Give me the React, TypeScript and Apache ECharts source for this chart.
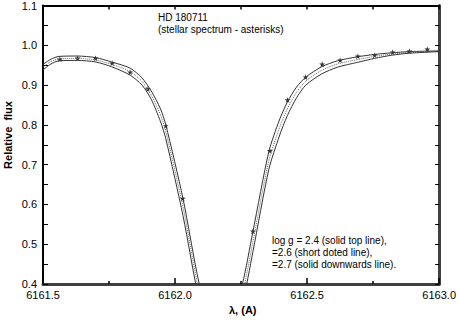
import React, { useEffect, useRef } from "react";
import * as echarts from "echarts";

// Wavelength grid (Angstrom) for the model profiles
const wavelengths = [
  6161.5, 6161.53, 6161.56, 6161.63, 6161.7, 6161.76, 6161.83, 6161.875, 6161.91,
  6161.945, 6161.965, 6162.03, 6162.09, 6162.17, 6162.255, 6162.295, 6162.355,
  6162.395, 6162.425, 6162.46, 6162.495, 6162.555, 6162.615, 6162.69, 6162.755,
  6162.82, 6162.885, 6163.0,
];
// log g = 2.4 (solid top line)
const fluxLogg24 = [
  0.952, 0.965, 0.972, 0.973, 0.969, 0.958, 0.9425, 0.918, 0.885,
  0.84, 0.8, 0.615, 0.405, 0.2, 0.4, 0.5325, 0.7325,
  0.812, 0.857, 0.895, 0.92, 0.946, 0.961, 0.971, 0.977,
  0.981, 0.984, 0.986,
];
// log g = 2.6 (short dotted line)
const fluxLogg26 = [
  0.945, 0.959, 0.966, 0.967, 0.963, 0.952, 0.934, 0.909, 0.874,
  0.825, 0.783, 0.594, 0.384, 0.18, 0.375, 0.507, 0.71,
  0.792, 0.84, 0.882, 0.91, 0.937, 0.953, 0.964, 0.972,
  0.978, 0.982, 0.985,
];
// log g = 2.7 (solid downwards line)
const fluxLogg27 = [
  0.938, 0.953, 0.961, 0.962, 0.958, 0.946, 0.925, 0.9, 0.864,
  0.808, 0.765, 0.572, 0.362, 0.16, 0.35, 0.482, 0.688,
  0.772, 0.823, 0.868, 0.9, 0.928, 0.945, 0.957, 0.967,
  0.975, 0.98, 0.984,
];
// Observed stellar spectrum (asterisks)
const starWavelengths = [
  6161.564, 6161.631, 6161.699, 6161.762, 6161.83, 6161.897, 6161.965, 6162.029,
  6162.295, 6162.359, 6162.426, 6162.494, 6162.557, 6162.625, 6162.692, 6162.756,
  6162.824, 6162.887, 6162.955,
];
const starFlux = [
  0.965, 0.9675, 0.9675, 0.955, 0.9325, 0.89, 0.7975, 0.615,
  0.5325, 0.735, 0.8625, 0.92, 0.9525, 0.9625, 0.9725, 0.975,
  0.9825, 0.985, 0.99,
];

const titleLines = ["HD 180711", "(stellar spectrum - asterisks)"];
const legendLines = [
  "log g = 2.4 (solid top line),",
  "=2.6 (short doted line),",
  "=2.7 (solid downwards line).",
];
const xAxisTitle = "λ, (A)";
const yAxisTitle = "Relative  flux";

const FONT = "Liberation Sans, Arial, sans-serif";
const STAR =
  "path://M50,0 L61,35 L98,35 L68,57 L79,91 L50,70 L21,91 L32,57 L2,35 L39,35 Z";

export default function App() {
  const ref = useRef<HTMLDivElement>(null);
  useEffect(() => {
    if (!ref.current) return;
    const chart = echarts.init(ref.current, undefined, { renderer: "svg" });
    const pair = (xs: number[], ys: number[]) => xs.map((x, i) => [x, ys[i]]);
    const lineSeries = (name: string, ys: number[], color: string, type: any) => ({
      name,
      type: "line",
      data: pair(wavelengths, ys),
      showSymbol: false,
      symbol: "none",
      smooth: 0.25,
      clip: true,
      lineStyle: { color, width: 1, type },
      silent: true,
    });
    chart.setOption({
      animation: false,
      backgroundColor: "#ffffff",
      grid: { left: 43, right: 16, top: 5, bottom: 36, containLabel: false },
      xAxis: [
        {
          type: "value",
          min: 6161.5,
          max: 6163.0,
          interval: 0.5,
          axisLine: { show: true, lineStyle: { color: "#404040", width: 3 } },
          axisTick: { show: true, inside: true, length: 6, lineStyle: { color: "#000", width: 1.5 } },
          minorTick: { show: true, splitNumber: 2, length: 3, lineStyle: { color: "#000", width: 1.5 } },
          splitLine: { show: false },
          axisLabel: {
            color: "#000",
            fontFamily: FONT,
            fontSize: 11,
            margin: 5,
            formatter: (v: number) => v.toFixed(1),
          },
        },
        {
          type: "value",
          position: "top",
          min: 6161.5,
          max: 6163.0,
          interval: 0.25,
          axisLine: { show: true, lineStyle: { color: "#000", width: 2 } },
          axisTick: { show: true, inside: true, length: 4, lineStyle: { color: "#000", width: 1.5 } },
          splitLine: { show: false },
          axisLabel: { show: false },
        },
      ],
      yAxis: [
        {
          type: "value",
          min: 0.4,
          max: 1.1,
          interval: 0.1,
          axisLine: { show: true, lineStyle: { color: "#000", width: 2 } },
          axisTick: { show: true, inside: true, length: 5, lineStyle: { color: "#000", width: 1 } },
          minorTick: { show: true, splitNumber: 2, length: 5, lineStyle: { color: "#000", width: 1 } },
          splitLine: { show: false },
          axisLabel: {
            color: "#000",
            fontFamily: FONT,
            fontSize: 11,
            margin: 6,
            formatter: (v: number) => v.toFixed(1),
          },
        },
        {
          type: "value",
          position: "right",
          min: 0.4,
          max: 1.1,
          interval: 0.05,
          axisLine: { show: true, lineStyle: { color: "#404040", width: 3 } },
          axisTick: { show: true, inside: true, length: 4, lineStyle: { color: "#000", width: 1 } },
          splitLine: { show: false },
          axisLabel: { show: false },
        },
      ],
      series: [
        lineSeries("log g = 2.4", fluxLogg24, "#333333", "solid"),
        lineSeries("log g = 2.6", fluxLogg26, "#666666", [1, 1]),
        lineSeries("log g = 2.7", fluxLogg27, "#333333", "solid"),
        {
          name: "HD 180711",
          type: "scatter",
          data: pair(starWavelengths, starFlux),
          symbol: STAR,
          symbolSize: 6,
          itemStyle: { color: "#000" },
          silent: true,
        },
      ],
      graphic: [
        ...titleLines.map((t, i) => ({
          type: "text",
          left: 158,
          top: 12 + i * 12,
          style: { text: t, fill: "#000", font: `10px ${FONT}` },
        })),
        ...legendLines.map((t, i) => ({
          type: "text",
          left: 272,
          top: 235 + i * 12,
          style: { text: t, fill: "#000", font: `10px ${FONT}` },
        })),
        {
          type: "text",
          left: 229,
          top: 304,
          style: { text: xAxisTitle, fill: "#000", font: `bold 11px ${FONT}` },
        },
        {
          type: "text",
          x: 8,
          y: 135,
          rotation: Math.PI / 2,
          style: {
            text: yAxisTitle,
            fill: "#000",
            font: `bold 11px ${FONT}`,
            align: "center",
            verticalAlign: "middle",
          },
        },
      ],
    });
    return () => chart.dispose();
  }, []);
  return (
    <div
      ref={ref}
      style={{ position: "fixed", left: 0, top: 0, width: 459, height: 320, background: "#fff" }}
    />
  );
}
